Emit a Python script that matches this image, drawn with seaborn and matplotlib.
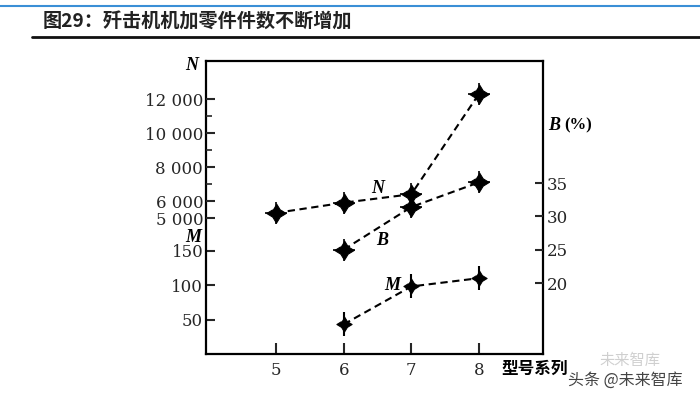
import matplotlib
matplotlib.use("Agg")
import matplotlib.pyplot as plt
import seaborn as sns
from matplotlib.lines import Line2D
from matplotlib.ticker import FixedLocator

# 数据
series_x = [5, 6, 7, 8]
n_vals = [5300, 5900, 6400, 12300]      # 零件件数 N
b_x = [6, 7, 8]
b_vals = [25.0, 31.4, 35.1]             # B (%)
m_x = [6, 7, 8]
m_vals = [43, 98, 110]                  # M
x_ticks = [5, 6, 7, 8]
n_ticks = [5000, 6000, 8000, 10000, 12000]
n_tick_labels = ["5 000", "6 000", "8 000", "10 000", "12 000"]
n_minor = [7000, 9000, 11000]
m_ticks = [50, 100, 150]
b_ticks = [20, 25, 30, 35]
title = "图29：歼击机机加零件件数不断增加"

sns.set_theme(style="ticks")
plt.rcParams["font.family"] = ["DejaVu Serif", "Noto Sans CJK SC"]

fig = plt.figure(figsize=(7, 3.97), dpi=100)
ax_m = fig.add_axes([0.2943, 0.1083, 0.4814, 0.738])
ax_n = ax_m.twinx()
ax_b = ax_m.twinx()

# 四角星标记（凹边菱形）
star = [(0, 1), (0.38, 0.38), (1, 0), (0.38, -0.38), (0, -1), (-0.38, -0.38), (-1, 0), (-0.38, 0.38)]
line_kw = dict(color="black", lw=1.5, linestyle=(0, (3.5, 2.2)), mec="black", mfc="black")

# 三条虚线
sns.lineplot(x=series_x, y=n_vals, ax=ax_n, marker=star, ms=14, **line_kw)
sns.lineplot(x=b_x, y=b_vals, ax=ax_b, marker=star, ms=14, **line_kw)
sns.lineplot(x=m_x, y=m_vals, ax=ax_m, marker=star, ms=11, **line_kw)
# 十字标记
sns.scatterplot(x=series_x, y=n_vals, ax=ax_n, marker="+", s=250, color="black", linewidth=1.2)
sns.scatterplot(x=b_x, y=b_vals, ax=ax_b, marker="+", s=250, color="black", linewidth=1.2)
sns.scatterplot(x=m_x, y=m_vals, ax=ax_m, marker="|", s=300, color="black", linewidth=1.5)

# 坐标范围
ax_m.set_xlim(3.966, 8.946)
ax_m.set_ylim(0, 425)
ax_n.set_ylim(-3000, 14235)
ax_b.set_ylim(9.35, 53.3)

# 刻度
ax_m.set_xticks(x_ticks)
ax_m.set_xticklabels([str(v) for v in x_ticks])
ax_m.set_yticks(m_ticks)
ax_m.set_yticklabels([str(v) for v in m_ticks])
ax_m.tick_params(axis="x", direction="in", length=8, width=1.5, pad=6, labelsize=12)
ax_m.tick_params(axis="y", direction="in", length=6.5, width=1.5, pad=2, labelsize=12,
                 left=True, right=False)

ax_n.yaxis.tick_left()
ax_n.set_yticks(n_ticks)
ax_n.set_yticklabels(n_tick_labels)
ax_n.yaxis.set_minor_locator(FixedLocator(n_minor))
ax_n.tick_params(axis="y", which="major", direction="in", length=6.5, width=1.5, pad=2, labelsize=12)
ax_n.tick_params(axis="y", which="minor", direction="in", length=4, width=1.2)

ax_b.yaxis.tick_right()
ax_b.set_yticks(b_ticks)
ax_b.set_yticklabels([str(v) for v in b_ticks])
ax_b.tick_params(axis="y", direction="in", length=6, width=1.5, pad=3, labelsize=12)

for a in (ax_m, ax_n, ax_b):
    a.set_xlabel("")
    a.set_ylabel("")
for s in ax_m.spines.values():
    s.set_linewidth(1.6)
    s.set_color("black")
for a in (ax_n, ax_b):
    for s in a.spines.values():
        s.set_visible(False)

# 标注文字
lab = dict(family=["Liberation Serif"], style="italic", weight="bold", fontsize=13, color="black")
fig.text(0.539, 0.526, "N", ha="center", va="center", **lab)
fig.text(0.546, 0.393, "B", ha="center", va="center", **lab)
fig.text(0.560, 0.282, "M", ha="center", va="center", **lab)
fig.text(0.274, 0.836, "N", ha="center", va="center", **lab)
fig.text(0.276, 0.403, "M", ha="center", va="center", **lab)
fig.text(0.783, 0.685, "B", ha="left", va="center", **lab)
fig.text(0.806, 0.685, "(%)", ha="left", va="center", family=["Liberation Serif"],
         weight="bold", fontsize=12, color="black")
fig.text(0.717, 0.071, "型号系列", ha="left", va="center", family=["Noto Sans CJK SC"],
         weight="bold", fontsize=12, color="black")

# 水印
fig.text(0.90, 0.092, "未来智库", ha="center", va="center", family=["Noto Sans CJK SC"],
         fontsize=11, color="#c4c4c4", alpha=0.8)
fig.text(0.812, 0.042, "头条 @未来智库", ha="left", va="center", family=["Noto Sans CJK SC"],
         fontsize=11.5, color="#444444")

# 标题与分隔线
fig.add_artist(Line2D([0, 1], [0.985, 0.985], color="#3a8fd6", lw=1.5))
fig.text(0.061, 0.944, title, ha="left", va="center", family=["Noto Sans CJK SC"],
         weight="bold", fontsize=13.8, color="#222222")
fig.add_artist(Line2D([0.045, 1], [0.907, 0.907], color="#111111", lw=2))

fig.savefig("out.png", dpi=100)
